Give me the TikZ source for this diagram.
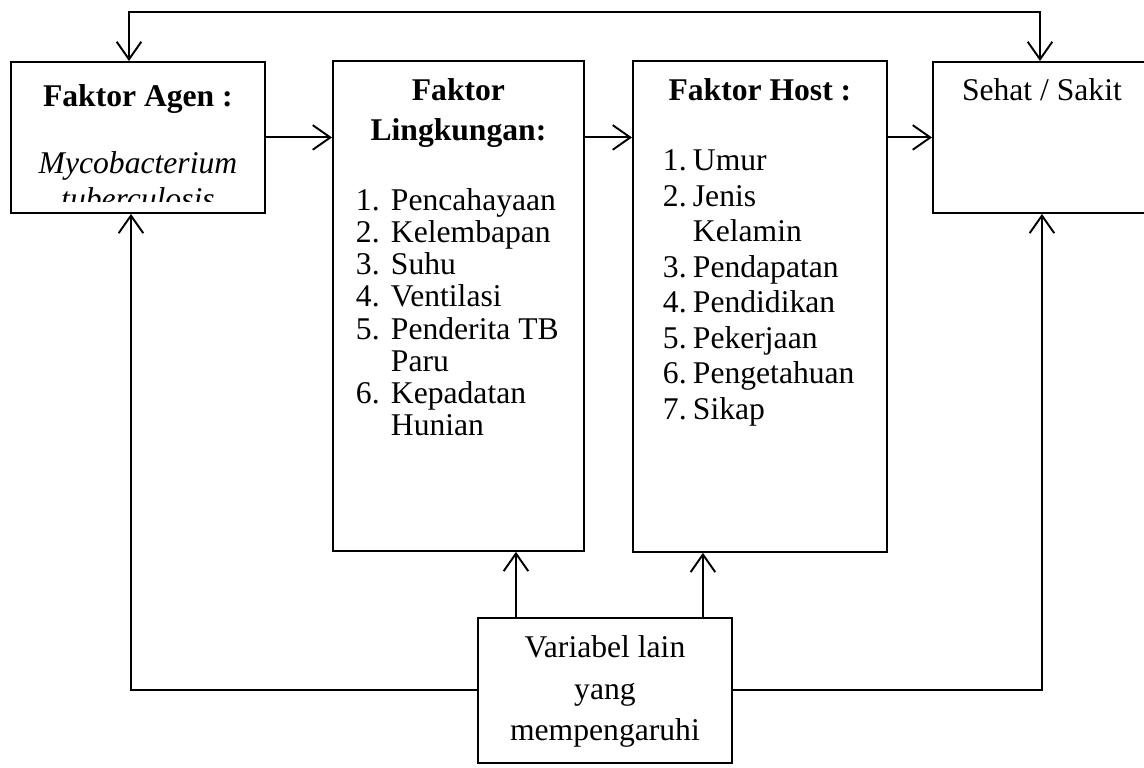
\documentclass[tikz,border=0pt]{standalone}
\usepackage{fontspec}
\setmainfont{Liberation Serif}
\usetikzlibrary{arrows.meta}

\newlength{\lebarno}
\newcommand{\butir}[2]{\makebox[\lebarno][l]{#1}#2}

\tikzset{
  kotak/.style={draw, line width=1.1pt, inner sep=0pt, anchor=north west, font=\fontsize{18}{19}\selectfont},
  garis/.style={line width=1.1pt},
  panah/.style={garis, -{Straight Barb[length=10pt,width=14pt]}},
  panahdua/.style={garis, {Straight Barb[length=10pt,width=14pt]}-{Straight Barb[length=10pt,width=14pt]}}
}

\begin{document}
\begin{tikzpicture}[x=0.02cm, y=-0.02cm]
\clip (0,0) rectangle (1144,768);

% faktor agen, baris bawah terpotong
\node[kotak, minimum width=5.08cm, minimum height=3.02cm, path picture={
    \clip ([yshift=0.22cm]path picture bounding box.south west) rectangle (path picture bounding box.north east);
    \node[draw=none, anchor=north, inner sep=0pt, font=\fontsize{18}{19}\selectfont] at (path picture bounding box.north)
      {\parbox[t]{5.08cm}{\centering\rule{0pt}{22.7pt}\textbf{Faktor Agen :}\\[19pt]
       \textit{Mycobacterium}\\[1.4pt]\textit{tuberculosis}}};
  }] (agen) at (10,61) {};

\node[kotak, minimum width=5.02cm, minimum height=9.8cm] (lingk) at (332,60) {\parbox[c][9.8cm][t]{5.02cm}{%
  {\centering\bfseries\fontsize{18}{22.7}\selectfont\rule{0pt}{22.7pt}Faktor\\Lingkungan:\par}
  \vspace{21.4pt}
  {\fontsize{18}{18.3}\selectfont\raggedright\leftskip=0.46cm\setlength{\lebarno}{0.7cm}%
   \butir{1.}{Pencahayaan}\\
   \butir{2.}{Kelembapan}\\
   \butir{3.}{Suhu}\\
   \butir{4.}{Ventilasi}\\
   \butir{5.}{Penderita TB}\\
   \hspace*{\lebarno}Paru\\
   \butir{6.}{Kepadatan}\\
   \hspace*{\lebarno}Hunian\par}}};

\node[kotak, minimum width=5.08cm, minimum height=9.82cm] (host) at (632,60) {\parbox[c][9.82cm][t]{5.08cm}{%
  {\centering\bfseries\fontsize{18}{22.7}\selectfont\rule{0pt}{22.7pt}Faktor Host :\par}
  \vspace{19.7pt}
  {\fontsize{18}{20.2}\selectfont\raggedright\leftskip=0.6cm\setlength{\lebarno}{0.6cm}%
   \butir{1.}{Umur}\\
   \butir{2.}{Jenis}\\
   \hspace*{\lebarno}Kelamin\\
   \butir{3.}{Pendapatan}\\
   \butir{4.}{Pendidikan}\\
   \butir{5.}{Pekerjaan}\\
   \butir{6.}{Pengetahuan}\\
   \butir{7.}{Sikap}\par}}};

\node[kotak, minimum width=4.36cm, minimum height=3.02cm] (sehat) at (932,61)
  {\parbox[c][3.02cm][t]{4.36cm}{\centering\rule{0pt}{22.1pt}Sehat / Sakit}};

\node[kotak, minimum width=5.08cm, minimum height=2.9cm] (variabel) at (477,617)
  {\parbox[c][2.9cm][t]{5.08cm}{\centering\fontsize{18}{23.5}\selectfont\rule{0pt}{22.7pt}Variabel lain\\yang\\mempengaruhi}};

% garis atas
\coordinate (kiriatas) at (129,12);
\coordinate (kananatas) at (1040,12);
\draw[panahdua] (agen.north -| kiriatas) -- (kiriatas) -- (kananatas) -- (sehat.north -| kananatas);

% panah mendatar
\draw[panah] (agen.east) -- (agen.east -| lingk.west);
\draw[panah] (lingk.east |- agen.east) -- (host.west |- agen.east);
\draw[panah] (host.east |- sehat.west) -- (sehat.west);

% dari variabel lain
\draw[panah] ([xshift=-1.78cm]variabel.north) -- ([xshift=-1.78cm]variabel.north |- lingk.south);
\draw[panah] ([xshift=1.96cm]variabel.north) -- ([xshift=1.96cm]variabel.north |- host.south);
\draw[panah] (variabel.west) -| ([xshift=-0.14cm]agen.south);
\draw[panah] (variabel.east) -| (sehat.south);
\end{tikzpicture}
\end{document}
